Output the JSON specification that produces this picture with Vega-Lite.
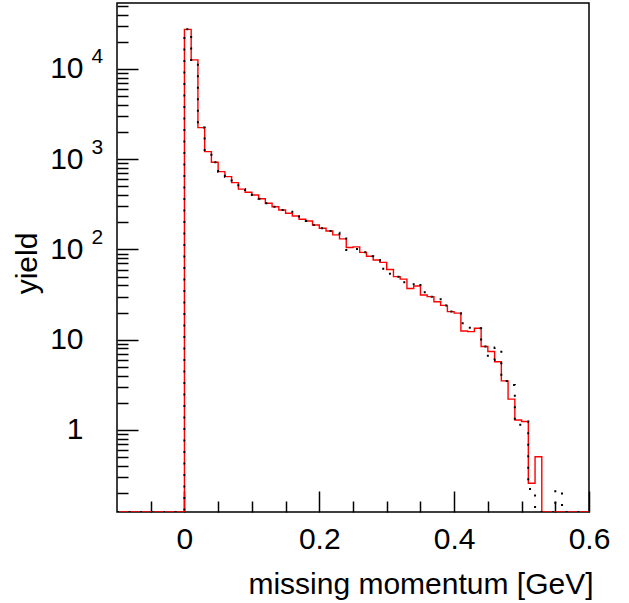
{
  "$schema": "https://vega.github.io/schema/vega-lite/v6.json",
  "width": 472,
  "height": 509,
  "autosize": {"type": "none"},
  "padding": {"left": 117, "top": 3, "right": 40, "bottom": 91},
  "background": "white",
  "config": {
    "view": {"stroke": "black", "strokeWidth": 1.5},
    "axis": {
      "grid": false, "domain": false,
      "labelFont": "Liberation Sans", "titleFont": "Liberation Sans",
      "labelColor": "black", "titleColor": "black",
      "tickColor": "black", "tickWidth": 1.5,
      "labelFlush": false, "labelOverlap": false,
      "titleFontWeight": "normal"
    }
  },
  "data": {"values": [
    {"x": -0.10, "red": 0, "black": 0},
    {"x": -0.09, "red": 0, "black": 0},
    {"x": -0.08, "red": 0, "black": 0},
    {"x": -0.07, "red": 0, "black": 0},
    {"x": -0.06, "red": 0, "black": 0},
    {"x": -0.05, "red": 0, "black": 0},
    {"x": -0.04, "red": 0, "black": 0},
    {"x": -0.03, "red": 0, "black": 0},
    {"x": -0.02, "red": 0, "black": 0},
    {"x": -0.01, "red": 0, "black": 0},
    {"x": 0.00, "red": 27500, "black": 27500},
    {"x": 0.01, "red": 12600, "black": 12600},
    {"x": 0.02, "red": 2240, "black": 2240},
    {"x": 0.03, "red": 1213, "black": 1213},
    {"x": 0.04, "red": 925, "black": 925},
    {"x": 0.05, "red": 728, "black": 728},
    {"x": 0.06, "red": 641, "black": 641},
    {"x": 0.07, "red": 550, "black": 550},
    {"x": 0.08, "red": 466, "black": 466},
    {"x": 0.09, "red": 430, "black": 430},
    {"x": 0.10, "red": 402, "black": 402},
    {"x": 0.11, "red": 365, "black": 365},
    {"x": 0.12, "red": 325, "black": 325},
    {"x": 0.13, "red": 298, "black": 298},
    {"x": 0.14, "red": 274, "black": 274},
    {"x": 0.15, "red": 252, "black": 262},
    {"x": 0.16, "red": 235, "black": 245},
    {"x": 0.17, "red": 216, "black": 216},
    {"x": 0.18, "red": 207, "black": 207},
    {"x": 0.19, "red": 187, "black": 187},
    {"x": 0.20, "red": 172, "black": 172},
    {"x": 0.21, "red": 160, "black": 160},
    {"x": 0.22, "red": 145, "black": 153},
    {"x": 0.23, "red": 131, "black": 137},
    {"x": 0.24, "red": 105, "black": 99},
    {"x": 0.25, "red": 107, "black": 101},
    {"x": 0.26, "red": 93, "black": 93},
    {"x": 0.27, "red": 84, "black": 84},
    {"x": 0.28, "red": 76.5, "black": 76.5},
    {"x": 0.29, "red": 72, "black": 61},
    {"x": 0.30, "red": 60, "black": 54},
    {"x": 0.31, "red": 50, "black": 50},
    {"x": 0.32, "red": 47, "black": 43.3},
    {"x": 0.33, "red": 37, "black": 41.1},
    {"x": 0.34, "red": 39.4, "black": 43.3},
    {"x": 0.35, "red": 31.3, "black": 33.6},
    {"x": 0.36, "red": 30, "black": 30},
    {"x": 0.37, "red": 26.4, "black": 28.8},
    {"x": 0.38, "red": 24, "black": 24},
    {"x": 0.39, "red": 20.5, "black": 20.5},
    {"x": 0.40, "red": 19.7, "black": 19.7},
    {"x": 0.41, "red": 12.5, "black": 15.2},
    {"x": 0.42, "red": 12.3, "black": 13.6},
    {"x": 0.43, "red": 13.4, "black": 13.4},
    {"x": 0.44, "red": 8.4, "black": 8.4},
    {"x": 0.45, "red": 7.4, "black": 5.97},
    {"x": 0.46, "red": 5.7, "black": 8.2},
    {"x": 0.47, "red": 3.5, "black": 3.5},
    {"x": 0.48, "red": 2.2, "black": 3.15},
    {"x": 0.49, "red": 1.29, "black": 1.14},
    {"x": 0.50, "red": 1.24, "black": 1.24},
    {"x": 0.51, "red": 0.257, "black": 0.222},
    {"x": 0.52, "red": 0.506, "black": 0},
    {"x": 0.53, "red": 0, "black": 0},
    {"x": 0.54, "red": 0, "black": 0},
    {"x": 0.55, "red": 0, "black": 0.216},
    {"x": 0.56, "red": 0, "black": 0},
    {"x": 0.57, "red": 0, "black": 0},
    {"x": 0.58, "red": 0, "black": 0},
    {"x": 0.59, "red": 0, "black": 0},
    {"x": 0.60, "red": 0, "black": 0}
  ]},
  "resolve": {"axis": {"x": "independent", "y": "independent"}},
  "layer": [
    {
      "mark": {"type": "line", "interpolate": "step-after", "color": "#ff0000", "strokeWidth": 1.4, "clip": true, "invalid": "show"},
      "encoding": {
        "x": {
          "field": "x", "type": "quantitative",
          "scale": {"domain": [-0.1, 0.6], "nice": false, "zero": false},
          "axis": {
            "orient": "bottom", "values": [0, 0.2, 0.4, 0.6],
            "labelExpr": "datum.value == 0 ? '0' : format(datum.value, '.1f')",
            "tickSize": -21, "labelFontSize": 30, "labelPadding": 57, "labelBaseline": "alphabetic",
            "title": "missing momentum [GeV]", "titleFontSize": 30,
            "titleAlign": "right", "titleAnchor": "end", "titleBaseline": "alphabetic",
            "titleX": 476, "titleY": 81
          }
        },
        "y": {
          "field": "red", "type": "quantitative",
          "scale": {"type": "log", "domain": [0.1234, 53830], "nice": false, "clamp": true},
          "axis": {
            "orient": "left", "values": [1, 10, 100, 1000, 10000],
            "labelExpr": "datum.value == 1 ? '1' : '10'",
            "tickSize": -21, "labelFontSize": 30, "labelPadding": 55,
            "labelAlign": "right", "labelBaseline": "middle",
            "title": "yield", "titleFontSize": 30, "titleAngle": -90,
            "titleAlign": "center", "titleBaseline": "alphabetic",
            "titleX": -81, "titleY": 260
          }
        }
      }
    },
    {
      "mark": {"type": "line", "interpolate": "step-after", "color": "#000000", "strokeWidth": 2, "strokeDash": [2, 9.5], "clip": true, "invalid": "show"},
      "encoding": {
        "x": {
          "field": "x", "type": "quantitative",
          "axis": {
            "orient": "bottom",
            "values": [-0.05, 0.05, 0.1, 0.15, 0.25, 0.3, 0.35, 0.45, 0.5, 0.55],
            "tickSize": -11, "labels": false, "title": null
          }
        },
        "y": {
          "field": "black", "type": "quantitative",
          "axis": {
            "orient": "left",
            "values": [0.2, 0.3, 0.4, 0.5, 0.6, 0.7, 0.8, 0.9, 2, 3, 4, 5, 6, 7, 8, 9, 20, 30, 40, 50, 60, 70, 80, 90, 200, 300, 400, 500, 600, 700, 800, 900, 2000, 3000, 4000, 5000, 6000, 7000, 8000, 9000, 20000, 30000, 40000, 50000],
            "tickSize": -11, "labels": false, "title": null
          }
        }
      }
    },
    {
      "mark": {"type": "text", "text": ""},
      "encoding": {
        "x": {"field": "x", "type": "quantitative", "axis": null},
        "y": {
          "field": "red", "type": "quantitative",
          "axis": {
            "orient": "left", "values": [100, 1000, 10000],
            "labelExpr": "datum.value == 100 ? '2' : (datum.value == 1000 ? '3' : '4')",
            "ticks": false, "tickSize": 0, "labelFontSize": 21, "labelPadding": 26,
            "labelAlign": "left", "labelBaseline": "middle", "labelOffset": -12,
            "title": null
          }
        }
      }
    }
  ]
}
